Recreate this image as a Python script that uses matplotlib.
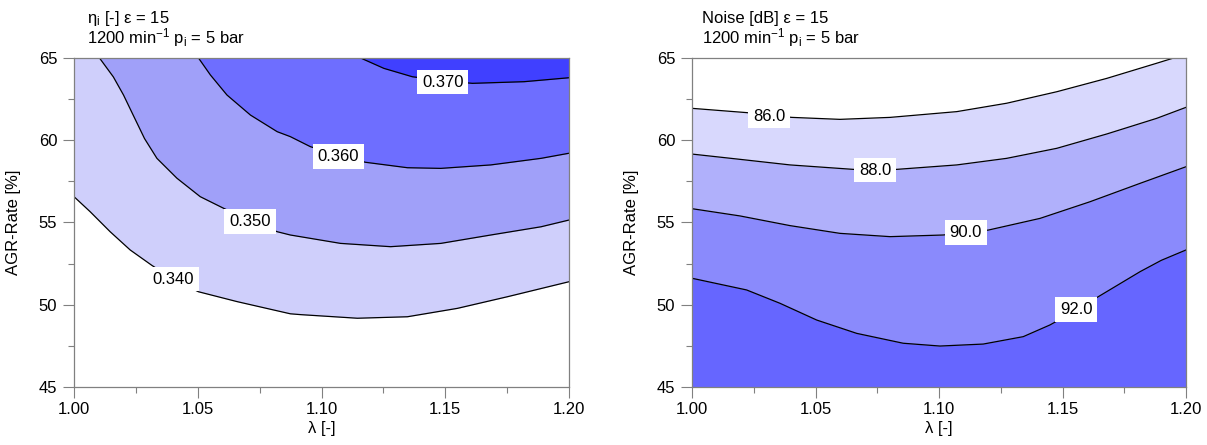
import numpy as np
import matplotlib.pyplot as plt

plt.rcParams['font.family'] = ['Liberation Sans', 'DejaVu Sans']
plt.rcParams['mathtext.fontset'] = 'custom'
plt.rcParams['mathtext.rm'] = 'Liberation Sans'
plt.rcParams['mathtext.it'] = 'Liberation Sans:italic'

# --- left chart: eta_i, contour lines ---
eta_levels = ["0.340", "0.350", "0.360", "0.370"]
eta340_x = [1.0000, 1.0065, 1.0146, 1.0227, 1.0314, 1.0401, 1.0503, 1.0659, 1.0874, 1.0915,
            1.1145, 1.1347, 1.1549, 1.1752, 1.2000]
eta340_y = [56.57, 55.66, 54.44, 53.33, 52.40, 51.55, 50.79, 50.19, 49.45, 49.40,
            49.18, 49.27, 49.78, 50.49, 51.40]
eta350_x = [1.0103, 1.0159, 1.0200, 1.0240, 1.0285, 1.0335, 1.0416, 1.0510, 1.0605, 1.0711,
            1.0821, 1.0874, 1.1077, 1.1279, 1.1482, 1.1684, 1.1887, 1.2000]
eta350_y = [65.00, 63.85, 62.75, 61.50, 60.10, 58.90, 57.69, 56.57, 55.86, 55.10,
            54.44, 54.24, 53.73, 53.53, 53.73, 54.24, 54.74, 55.15]
eta360_x = [1.0503, 1.0551, 1.0618, 1.0713, 1.0821, 1.0874, 1.0955, 1.1068, 1.1178, 1.1347,
            1.1482, 1.1684, 1.1887, 1.2000]
eta360_y = [65.00, 63.97, 62.75, 61.53, 60.52, 60.22, 59.61, 59.08, 58.66, 58.33,
            58.29, 58.50, 58.90, 59.21]
eta370_x = [1.1158, 1.1252, 1.1367, 1.1490, 1.1610, 1.1819, 1.2000]
eta370_y = [65.00, 64.37, 63.86, 63.62, 63.46, 63.56, 63.80]
eta_label_x = [1.0401, 1.0711, 1.1068, 1.1490]
eta_label_y = [51.56, 55.05, 59.01, 63.54]

# --- right chart: noise ---
noise_levels = ["86.0", "88.0", "90.0", "92.0"]
n86_x = [1.0000, 1.0221, 1.0312, 1.0404, 1.0599, 1.0802, 1.1072, 1.1274, 1.1477, 1.1679,
         1.1881, 1.1950]
n86_y = [61.94, 61.68, 61.53, 61.39, 61.27, 61.39, 61.74, 62.25, 62.95, 63.76,
         64.68, 65.00]
n88_x = [1.0000, 1.0194, 1.0397, 1.0653, 1.0742, 1.0829, 1.1072, 1.1274, 1.1477, 1.1679,
         1.1881, 1.2000]
n88_y = [59.16, 58.84, 58.50, 58.23, 58.20, 58.23, 58.50, 58.90, 59.51, 60.38,
         61.33, 62.00]
n90_x = [1.0000, 1.0194, 1.0397, 1.0599, 1.0802, 1.1017, 1.1109, 1.1200, 1.1409, 1.1611,
         1.1814, 1.2000]
n90_y = [55.84, 55.40, 54.81, 54.34, 54.14, 54.24, 54.38, 54.54, 55.25, 56.26,
         57.38, 58.39]
n92_x = [1.0000, 1.0221, 1.0356, 1.0505, 1.0667, 1.0855, 1.1004, 1.1179, 1.1341, 1.1449,
         1.1555, 1.1645, 1.1814, 1.1900, 1.2000]
n92_y = [51.61, 50.90, 50.09, 49.07, 48.26, 47.66, 47.49, 47.61, 48.06, 48.77,
         49.65, 50.49, 52.01, 52.70, 53.33]
noise_label_x = [1.0312, 1.0742, 1.1109, 1.1555]
noise_label_y = [61.47, 58.19, 54.38, 49.72]

eta_colors = ['#cfcffb', '#a0a0f9', '#6e6eff', '#4040ff']
noise_colors = ['#d8d8fd', '#b0b0fb', '#8a8afc', '#6666ff']

fig = plt.figure(figsize=(12.07, 4.45), dpi=100)
ax1 = fig.add_axes([74/1207, 1-387/445, 495/1207, 329/445])
ax2 = fig.add_axes([692/1207, 1-387/445, 494/1207, 329/445])

# left: fill above each line, from lowest level upwards
eta_lines = [(eta340_x, eta340_y), (eta350_x, eta350_y), (eta360_x, eta360_y), (eta370_x, eta370_y)]
for (lx, ly), c in zip(eta_lines, eta_colors):
    ax1.fill_between(lx, ly, 65, color=c, lw=0)
for lx, ly in eta_lines:
    ax1.plot(lx, ly, color='black', lw=0.9)
for t, tx, ty in zip(eta_levels, eta_label_x, eta_label_y):
    ax1.text(tx, ty, t, fontsize=12, ha='center', va='center',
             bbox=dict(facecolor='white', edgecolor='none', pad=3.5))

# right: lightest band everywhere, white above 86, darker below each line
noise_lines = [(n86_x, n86_y), (n88_x, n88_y), (n90_x, n90_y), (n92_x, n92_y)]
ax2.fill_between([1.0, 1.2], 45, 65, color=noise_colors[0], lw=0)
ax2.fill_between(n86_x, n86_y, 65, color='white', lw=0)
for (lx, ly), c in zip(noise_lines[1:], noise_colors[1:]):
    ax2.fill_between(lx, 45, ly, color=c, lw=0)
for lx, ly in noise_lines:
    ax2.plot(lx, ly, color='black', lw=0.9)
for t, tx, ty in zip(noise_levels, noise_label_x, noise_label_y):
    ax2.text(tx, ty, t, fontsize=12, ha='center', va='center',
             bbox=dict(facecolor='white', edgecolor='none', pad=3.5))

for ax in (ax1, ax2):
    ax.set_xlim(1.0, 1.2)
    ax.set_ylim(45, 65)
    ax.set_xticks(np.arange(1.0, 1.201, 0.05))
    ax.set_xticks(np.arange(1.025, 1.2, 0.05), minor=True)
    ax.set_yticks(np.arange(45, 65.1, 5))
    ax.set_yticks(np.arange(47.5, 65, 5), minor=True)
    ax.xaxis.set_major_formatter(plt.FormatStrFormatter('%.2f'))
    for s in ax.spines.values():
        s.set_color('#808080')
        s.set_linewidth(0.9)
    ax.tick_params(which='major', length=8, width=0.8, color='#808080', labelsize=12, pad=3)
    ax.tick_params(which='minor', length=4.3, width=0.8, color='#808080')
    ax.tick_params(axis='y', pad=4)
    ax.set_xlabel('λ [-]', fontsize=12, labelpad=3)
    ax.set_ylabel('AGR-Rate [%]', fontsize=12)
    ax.yaxis.set_label_coords(-0.108, 0.5)

fig.text(87/1207, 1-23/445, r'η$_\mathrm{i}$ [-] ε = 15', fontsize=12, va='baseline')
fig.text(87/1207, 1-43/445, r'1200 min$^{-1}$ p$_\mathrm{i}$ = 5 bar', fontsize=12, va='baseline')
fig.text(702/1207, 1-23/445, 'Noise [dB] ε = 15', fontsize=12, va='baseline')
fig.text(702/1207, 1-43/445, r'1200 min$^{-1}$ p$_\mathrm{i}$ = 5 bar', fontsize=12, va='baseline')

plt.savefig('out.png', dpi=100)
